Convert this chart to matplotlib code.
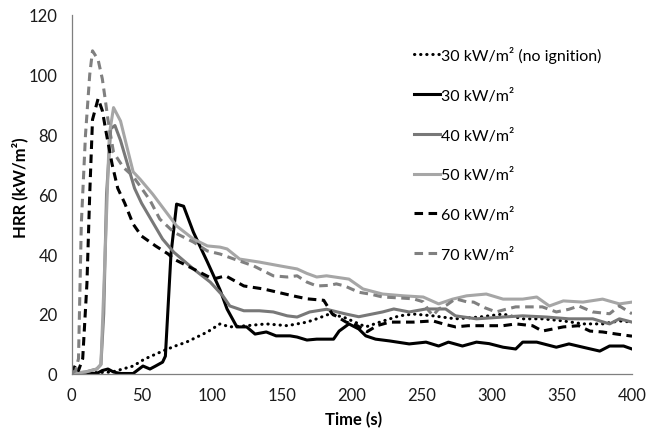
import matplotlib
matplotlib.use("Agg")
import matplotlib.pyplot as plt

plt.rcParams['font.family'] = ['Lato', 'DejaVu Sans']

# ---- data ----
t_noign = [0, 29, 44, 52, 65, 74, 82, 97, 106, 113, 125, 139, 154, 168, 175, 184, 194, 210, 220, 234, 244, 258, 274, 291, 308, 322, 336, 351, 365, 379, 391, 400]
v_noign = [0, 0.5, 2.5, 4.8, 7.5, 9.2, 10.5, 13.9, 16.6, 15.6, 16, 16.6, 16, 17.2, 18.3, 19.9, 18.9, 15.6, 17.2, 19.3, 19.9, 19.3, 18.3, 18.9, 19.9, 18.3, 18.3, 17.6, 16.6, 16.6, 17.6, 17.2]

t_30 = [0, 18, 22, 26, 30, 35, 44, 51, 56, 60, 65, 67, 71, 75, 80, 87, 97, 106, 111, 118, 125, 131, 139, 146, 156, 161, 168, 175, 187, 191, 198, 205, 210, 217, 227, 241, 253, 262, 269, 279, 289, 298, 308, 317, 322, 332, 346, 355, 365, 377, 384, 394, 400]
v_30 = [0, 0, 1, 1.5, 0.5, 0, 0, 2.5, 1.5, 2.5, 3.8, 5.8, 40, 56.7, 56, 47.3, 37.3, 28, 21.6, 15.6, 15.6, 13.2, 13.9, 12.6, 12.6, 12.2, 11.2, 11.5, 11.5, 14.2, 16.6, 14.9, 12.6, 11.5, 10.9, 9.9, 10.5, 9.2, 10.5, 9.2, 10.5, 10, 8.8, 8.2, 10.5, 10.5, 8.8, 9.9, 8.8, 7.5, 9.2, 9.2, 8.2]

t_40 = [0, 10, 18, 21, 23, 25, 28, 31, 35, 40, 45, 50, 55, 60, 65, 73, 87, 99, 108, 113, 123, 134, 144, 154, 161, 170, 182, 195, 205, 222, 230, 241, 253, 267, 274, 289, 308, 322, 339, 355, 372, 384, 391, 400]
v_40 = [0, 0.5, 1.5, 3, 20, 60, 82, 83, 78, 70, 62, 57, 53, 49, 45, 40.6, 35, 30.6, 26, 22.6, 21, 21, 20.6, 19.3, 18.9, 20.6, 21.5, 20, 19, 20.6, 21.6, 20.6, 21.6, 21.6, 19.3, 18.3, 18.9, 19.3, 18.9, 18.3, 18.3, 16.6, 18.3, 17.2]

t_50 = [0, 10, 18, 21, 24, 27, 30, 35, 40, 44, 49, 58, 66, 75, 87, 97, 106, 111, 120, 134, 149, 161, 168, 175, 182, 198, 208, 222, 237, 251, 262, 272, 282, 296, 308, 322, 332, 341, 351, 365, 379, 391, 400]
v_50 = [0, 0.5, 1.5, 3, 40, 80, 89, 84.5, 75, 67.5, 65, 60, 55, 49.4, 45, 42.7, 42.3, 41.7, 38.3, 37.3, 36, 35, 33.5, 32.3, 32.7, 31.6, 28.3, 26.6, 26, 25.6, 23.3, 24.9, 26, 26.6, 24.9, 24.9, 25.6, 22.6, 24.3, 23.9, 24.9, 23.3, 23.9]

t_60 = [0, 3, 5, 8, 11, 13, 15, 19, 22, 25, 29, 33, 38, 44, 50, 60, 69, 73, 87, 101, 110, 123, 137, 158, 168, 180, 186, 196, 204, 211, 218, 227, 237, 244, 258, 266, 274, 283, 294, 308, 317, 329, 336, 351, 362, 370, 379, 389, 400]
v_60 = [0, 3, 1, 5, 30, 60, 85, 92, 88, 80, 70, 62, 57, 50, 46, 42.7, 40, 38.3, 35, 31.6, 32.7, 29.3, 28.3, 26, 25, 24.5, 20, 17.2, 16, 14, 16, 17.2, 17.2, 17.2, 17.6, 16.5, 15.6, 16, 16, 16, 16.6, 16, 14.2, 15.6, 16, 14.2, 13.9, 13.2, 12.5]

t_70 = [0, 3, 5, 7, 10, 13, 15, 19, 22, 24, 26, 30, 37, 44, 50, 56, 63, 73, 87, 97, 106, 116, 130, 144, 154, 161, 168, 175, 184, 189, 195, 205, 214, 222, 234, 244, 251, 255, 258, 262, 268, 274, 282, 287, 295, 303, 310, 317, 326, 336, 346, 355, 362, 372, 384, 391, 400]
v_70 = [0, 1, 5, 50, 80, 100, 108, 105, 98.6, 92, 85, 74, 69, 66, 62, 58, 51.7, 47.3, 44, 41, 40, 38.3, 36, 32.7, 32.3, 32.7, 30.6, 29.3, 29.5, 30, 29.3, 27.2, 26.5, 25.6, 25.3, 25, 24, 21, 19.4, 21.6, 23, 25, 24, 23.9, 22, 20.6, 21.5, 22.3, 22.3, 22.3, 20.6, 21.5, 22.6, 20.6, 20, 22.6, 20]

labels = ["30 kW/m² (no ignition)", "30 kW/m²", "40 kW/m²", "50 kW/m²", "60 kW/m²", "70 kW/m²"]
x_ticks = [0, 50, 100, 150, 200, 250, 300, 350, 400]
y_ticks = [0, 20, 40, 60, 80, 100, 120]

# ---- figure ----
fig = plt.figure(figsize=(6.46, 4.31), dpi=100)
ax = fig.add_axes([71.5 / 646, 1 - 374.5 / 431, (632 - 71.5) / 646, (374.5 - 16) / 431])

lw = 2.2
ax.plot(t_noign, v_noign, color='black', lw=lw, linestyle=(0, (0.1, 1.9)),
        dash_capstyle='round', label=labels[0])
ax.plot(t_30, v_30, color='black', lw=lw, label=labels[1])
ax.plot(t_40, v_40, color='#787878', lw=lw, label=labels[2])
ax.plot(t_50, v_50, color='#a6a6a6', lw=lw, label=labels[3])
ax.plot(t_60, v_60, color='black', lw=lw, linestyle=(0, (2.8, 1.8)), label=labels[4])
ax.plot(t_70, v_70, color='#808080', lw=lw, linestyle=(0, (2.8, 1.8)), label=labels[5])

ax.set_xlim(0, 400)
ax.set_ylim(0, 120)
ax.set_xticks(x_ticks)
ax.set_yticks(y_ticks)
ax.tick_params(length=0, labelsize=12, colors='#1a1a1a')
ax.tick_params(axis='x', pad=10)
ax.tick_params(axis='y', pad=10)
for s in ['top', 'right']:
    ax.spines[s].set_visible(False)
for s in ['left', 'bottom']:
    ax.spines[s].set_color('#7f7f7f')
    ax.spines[s].set_linewidth(0.9)

fig.text(354 / 646, 1 - 420 / 431, "Time (s)", ha='center', va='center',
         fontsize=12, fontweight='bold')
fig.text(20 / 646, 1 - 188 / 431, "HRR (kW/m²)", ha='center', va='center',
         rotation=90, fontsize=12, fontweight='bold')

leg = ax.legend(loc='upper left', bbox_to_anchor=(414 / 646, 1 - 47 / 431),
                bbox_transform=fig.transFigure, frameon=False, fontsize=11.5,
                handlelength=1.6, handletextpad=0.1, labelspacing=1.55,
                borderpad=0, borderaxespad=0)

fig.savefig("out.png", dpi=100)
